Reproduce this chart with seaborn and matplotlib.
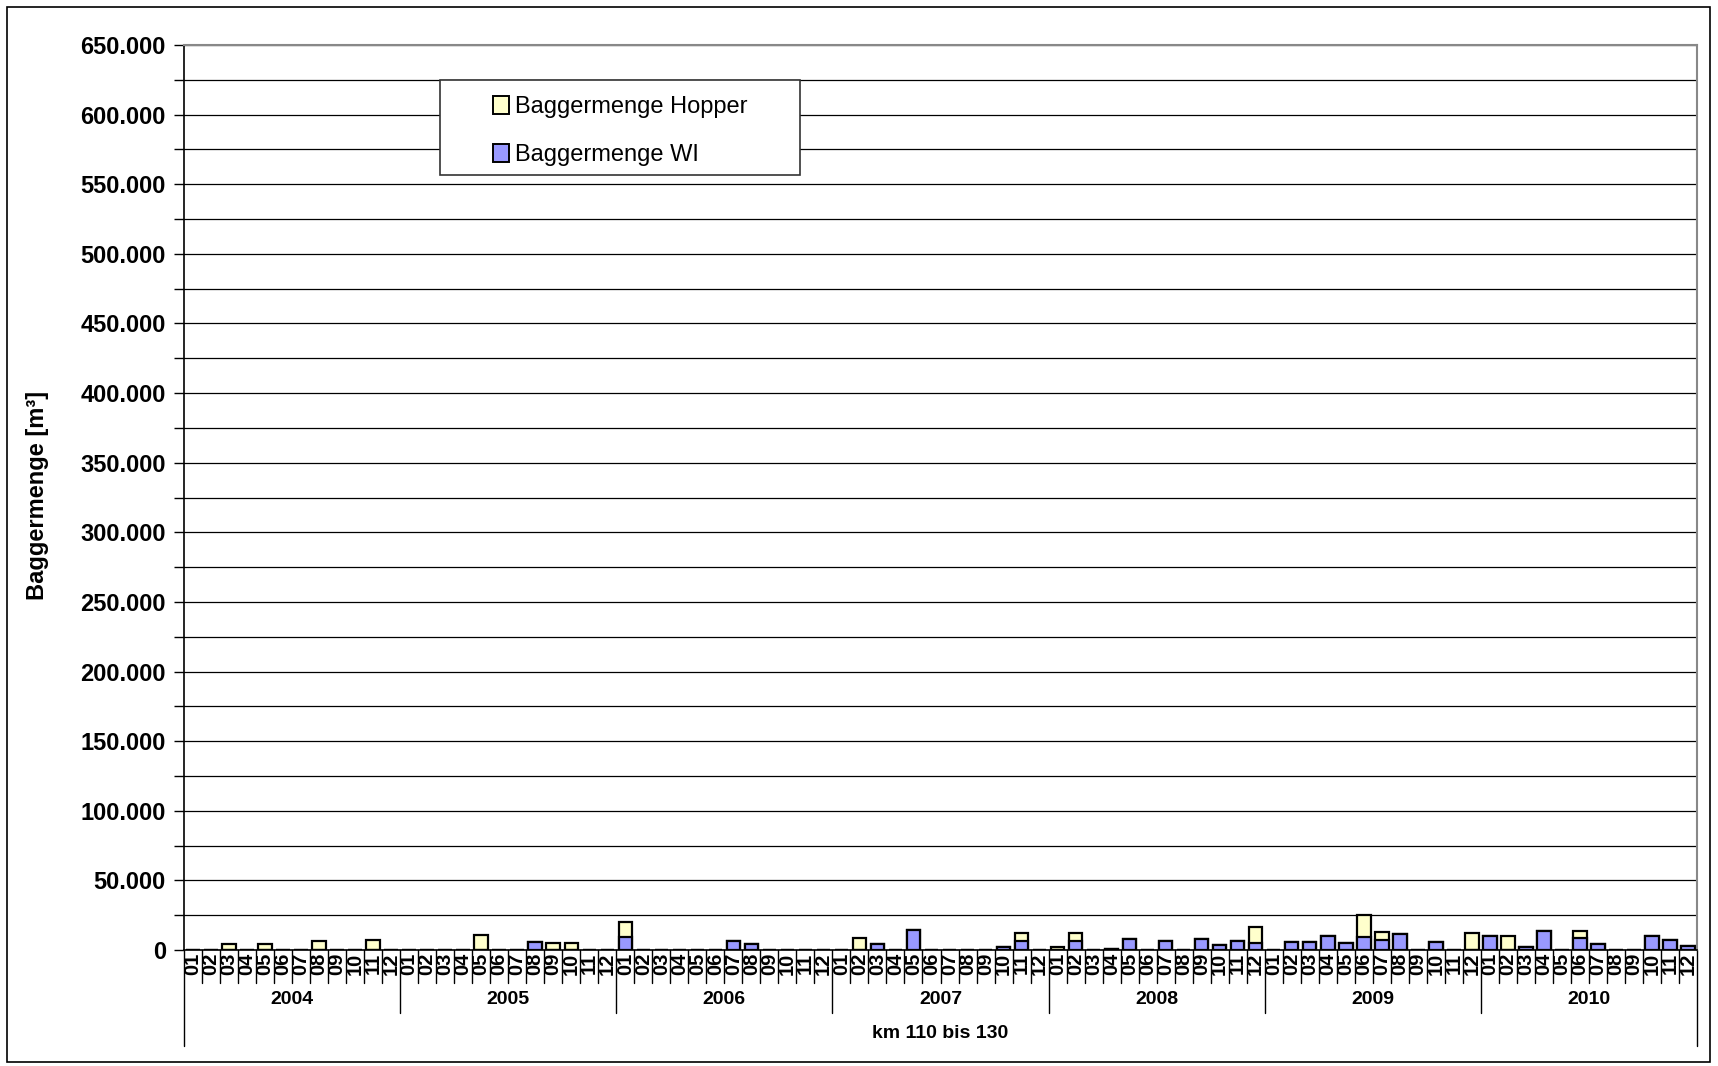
import numpy as np
import pandas as pd
import matplotlib
matplotlib.use("Agg")
import matplotlib.pyplot as plt
import matplotlib.transforms as mtransforms
from matplotlib.patches import Rectangle, Patch
from matplotlib.ticker import FuncFormatter, MultipleLocator
import seaborn as sns

# data (m³ per month)
years = ["2004", "2005", "2006", "2007", "2008", "2009", "2010"]
months = ["01", "02", "03", "04", "05", "06", "07", "08", "09", "10", "11", "12"]

hopper = [
    0, 0, 4100, 0, 4600, 0, 0, 6500, 0, 0, 7500, 0,           # 2004
    0, 0, 0, 0, 10700, 0, 0, 0, 5100, 5100, 0, 0,              # 2005
    10800, 0, 0, 0, 0, 0, 0, 0, 0, 0, 0, 0,                    # 2006
    0, 8500, 0, 0, 0, 0, 0, 0, 0, 0, 5400, 0,                  # 2007
    2400, 5600, 0, 0, 0, 0, 0, 0, 0, 0, 0, 11400,              # 2008
    0, 0, 0, 0, 0, 15600, 5300, 0, 0, 0, 0, 12400,             # 2009
    0, 10200, 0, 0, 0, 5300, 0, 0, 0, 0, 0, 0,                 # 2010
]
wi = [
    0, 0, 0, 0, 0, 0, 0, 0, 0, 0, 0, 0,                        # 2004
    0, 0, 0, 0, 0, 0, 0, 6000, 0, 0, 0, 0,                     # 2005
    9200, 0, 0, 0, 0, 0, 6800, 4600, 0, 0, 0, 0,               # 2006
    0, 0, 4100, 0, 14100, 0, 0, 0, 0, 2200, 6800, 0,           # 2007
    0, 6800, 0, 1000, 8000, 0, 6600, 0, 8000, 3600, 6800, 4900,  # 2008
    0, 5600, 5800, 10200, 5300, 9200, 7300, 11200, 0, 5800, 0, 0,  # 2009
    10400, 0, 2200, 13600, 0, 8300, 4400, 0, 0, 10400, 7500, 2700,  # 2010
]

slots = [y + "-" + m for y in years for m in months]
df = pd.DataFrame({"slot": slots, "hopper": hopper, "wi": wi})
df["total"] = df["hopper"] + df["wi"]

c_hopper = "#FFFFCC"
c_wi = "#9999FF"

sns.set_theme(style="white")
plt.rcParams["font.family"] = ["Liberation Sans", "DejaVu Sans"]
plt.rcParams["text.color"] = "black"
plt.rcParams["xtick.color"] = "black"
plt.rcParams["ytick.color"] = "black"

W, H = 1718, 1066
fig = plt.figure(figsize=(W / 100, H / 100), dpi=100)
ax = fig.add_axes([184 / W, 1 - 950 / H, 1513 / W, 905 / H])

# frame around the whole chart
fig.patches.append(Rectangle((7 / W, 4 / H), 1703 / W, 1055 / H, transform=fig.transFigure,
                             fill=False, edgecolor="black", linewidth=1.2))

# stacked bars: total (hopper colour) then WI on top of it from zero
sns.barplot(data=df, x="slot", y="total", order=slots, color=c_hopper, saturation=1,
            width=0.75, edgecolor="black", linewidth=1.6, ax=ax)
sns.barplot(data=df, x="slot", y="wi", order=slots, color=c_wi, saturation=1,
            width=0.75, edgecolor="black", linewidth=1.6, ax=ax)

ax.set_xlim(-0.5, len(slots) - 0.5)
ax.set_ylim(0, 650000)

# y axis
ax.yaxis.set_major_locator(MultipleLocator(50000))
ax.yaxis.set_minor_locator(MultipleLocator(25000))
ax.yaxis.set_major_formatter(FuncFormatter(lambda v, p: f"{int(v):,}".replace(",", ".")))
ax.grid(True, axis="y", which="both", color="black", linewidth=0.9)
ax.set_axisbelow(True)
ax.tick_params(axis="y", which="both", direction="out", length=7, width=1, color="black",
               left=True, labelsize=17, pad=6)
for lab in ax.get_yticklabels():
    lab.set_fontweight("bold")

# x axis: months
ax.set_xticks(range(len(slots)))
ax.set_xticklabels(months * len(years), rotation=90, fontsize=14.5, fontweight="bold")
ax.tick_params(axis="x", length=0, pad=2)
ax.set_xlabel("")
ax.set_ylabel("")

for side in ["left", "bottom"]:
    ax.spines[side].set_color("black")
    ax.spines[side].set_linewidth(1.2)
for side in ["top", "right"]:
    ax.spines[side].set_color("#888888")
    ax.spines[side].set_linewidth(1.5)

trans = mtransforms.blended_transform_factory(ax.transData, ax.transAxes)
axh = 905.0
for i in range(len(slots) + 1):
    x = i - 0.5
    if i % 12 == 0:
        y_end = -(1013 - 950) / axh if 0 < i < len(slots) else -(1046 - 950) / axh
    else:
        y_end = -(983 - 950) / axh
    ax.plot([x, x], [0, y_end], transform=trans, color="black", linewidth=1, clip_on=False)

for k, yr in enumerate(years):
    ax.text(k * 12 + 5.5, -(1000 - 950) / axh, yr, transform=trans, ha="center", va="center",
            fontsize=14, fontweight="bold")

ax.text(0.5, -(1033 - 950) / axh, "km 110 bis 130", transform=ax.transAxes, ha="center",
        va="center", fontsize=14, fontweight="bold")

fig.text(38 / W, 1 - 495 / H, "Baggermenge [m³]", rotation=90, ha="center", va="center",
         fontsize=17, fontweight="bold")

# legend: white box with frame, entries inside
ax.add_patch(Rectangle((0.169, 0.856), 0.238, 0.105, transform=ax.transAxes,
                       facecolor="white", edgecolor="#333333", linewidth=1.2, zorder=5))
handles = [Patch(facecolor=c_hopper, edgecolor="black", linewidth=1.4, label="Baggermenge Hopper"),
           Patch(facecolor=c_wi, edgecolor="black", linewidth=1.4, label="Baggermenge WI")]
leg = ax.legend(handles=handles, loc="center left", bbox_to_anchor=(0.204, 0.905),
                fontsize=17, frameon=False, handlelength=0.7, handleheight=0.8,
                handletextpad=0.25, labelspacing=1.08, borderpad=0, borderaxespad=0)
leg.set_zorder(6)

fig.savefig("out.png", dpi=100, facecolor="white")
